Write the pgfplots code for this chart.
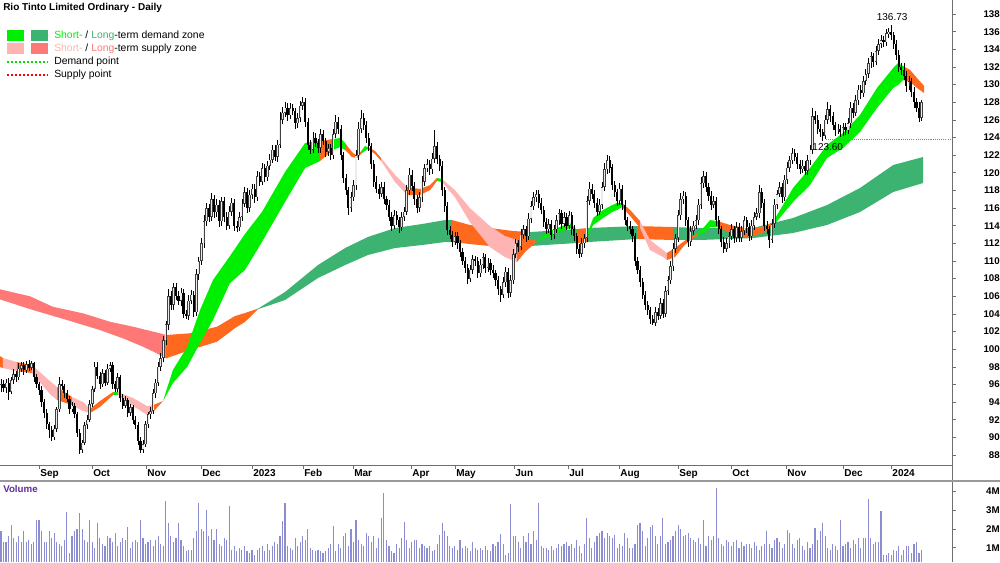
\documentclass[border=0pt]{standalone}
\usepackage{fontspec}
\setmainfont{Liberation Sans}
\usepackage{pgfplots}
\usepackage{pgfplotstable}
\pgfplotsset{compat=1.18}
\definecolor{bgreen}{RGB}{0,238,0}
\definecolor{dgreen}{RGB}{0,225,0}
\definecolor{sgreen}{RGB}{60,179,113}
\definecolor{lpink}{RGB}{255,180,180}
\definecolor{salm}{RGB}{255,120,120}
\definecolor{orng}{RGB}{255,105,30}
\definecolor{volc}{RGB}{140,140,210}
\definecolor{volt}{RGB}{95,45,155}
\definecolor{axg}{RGB}{110,110,110}

% daily close, upper wick, lower wick (wicks in tenths)
\pgfplotstableread[row sep=\\]{
c u w\\
96.0 6 8\\ 95.6 5 4\\ 96.2 4 6\\ 95.2 5 10\\ 96.5 4 3\\ 97.2 5 4\\ 96.8 3 5\\ 97.8 6 3\\ 98.2 4 4\\ 97.6 3 5\\
98.3 4 3\\ 97.9 5 4\\ 98.4 3 3\\ 96.8 2 5\\ 96.0 4 4\\ 95.4 3 6\\ 94.0 4 5\\ 92.8 3 6\\ 91.5 4 5\\ 90.8 3 9\\
90.0 5 4\\ 91.0 4 3\\ 93.2 3 4\\ 96.0 9 3\\ 95.8 5 4\\ 95.0 3 5\\ 94.4 4 4\\ 93.2 3 5\\ 93.6 4 3\\ 92.6 3 4\\
90.5 3 4\\ 88.6 4 5\\ 89.4 3 4\\ 91.4 4 3\\ 92.0 5 4\\ 93.8 4 3\\ 95.5 3 4\\ 98.0 6 3\\ 97.0 5 4\\ 96.0 4 5\\
97.3 4 3\\ 96.2 3 4\\ 97.8 5 3\\ 98.2 4 4\\ 96.0 3 5\\ 95.5 4 4\\ 96.8 5 3\\ 94.5 3 5\\ 93.6 4 4\\ 94.2 5 3\\
92.8 3 5\\ 93.4 4 4\\ 92.0 3 5\\ 91.4 4 4\\ 89.6 3 5\\ 88.6 4 4\\ 89.2 5 4\\ 91.5 4 3\\ 92.6 3 4\\ 93.0 4 5\\
95.0 5 3\\ 96.2 4 5\\ 98.0 5 4\\ 99.0 6 5\\ 101.0 5 4\\ 102.8 4 5\\ 106.0 8 6\\ 105.0 6 5\\ 107.0 5 6\\ 106.0 5 4\\
105.5 6 5\\ 106.4 5 6\\ 104.0 4 5\\ 103.8 5 4\\ 105.5 6 5\\ 106.2 5 4\\ 104.2 4 6\\ 108.5 6 4\\ 110.0 5 6\\ 112.0 6 5\\
114.5 7 5\\ 116.0 6 5\\ 115.0 5 6\\ 117.0 7 5\\ 115.5 5 6\\ 116.4 6 5\\ 114.5 5 6\\ 116.8 5 5\\ 115.0 4 6\\ 114.0 5 5\\
115.6 6 4\\ 116.6 5 5\\ 114.0 4 6\\ 113.8 5 5\\ 115.0 6 4\\ 116.5 5 5\\ 117.8 6 4\\ 116.0 5 6\\ 117.5 6 4\\ 118.2 5 5\\
117.2 5 6\\ 119.6 6 4\\ 119.0 5 5\\ 120.5 6 4\\ 119.5 5 6\\ 120.8 5 4\\ 121.5 6 5\\ 122.6 5 4\\ 121.8 6 5\\ 123.2 5 6\\
126.0 9 4\\ 126.8 7 5\\ 127.4 6 5\\ 126.5 5 6\\ 127.3 6 4\\ 127.0 5 5\\ 125.6 4 6\\ 126.2 6 5\\ 127.6 5 4\\ 128.0 6 5\\
125.8 5 6\\ 123.2 4 6\\ 122.6 5 5\\ 124.0 6 4\\ 123.4 5 5\\ 122.8 4 6\\ 124.4 6 5\\ 123.6 5 5\\ 122.4 4 6\\ 122.8 5 5\\
122.0 5 6\\ 124.4 6 4\\ 125.8 7 5\\ 125.0 5 6\\ 122.0 4 5\\ 119.4 4 6\\ 118.0 5 5\\ 116.0 4 8\\ 117.2 6 5\\ 118.6 6 4\\
122.0 6 5\\ 125.0 8 5\\ 126.2 9 5\\ 125.4 6 5\\ 124.0 5 6\\ 123.0 5 5\\ 121.0 4 6\\ 119.0 5 6\\ 118.2 6 5\\ 117.6 5 6\\
118.4 6 4\\ 117.0 5 5\\ 116.4 4 6\\ 115.0 5 5\\ 114.0 5 6\\ 115.2 6 4\\ 114.6 5 5\\ 113.8 4 6\\ 115.0 6 4\\ 115.6 5 5\\
118.0 6 4\\ 119.8 7 5\\ 118.5 5 6\\ 117.0 4 6\\ 116.0 5 6\\ 117.2 6 4\\ 119.0 6 5\\ 120.5 5 5\\ 121.0 6 4\\ 120.4 5 6\\
121.6 6 5\\ 123.0 18 5\\ 121.6 5 6\\ 120.8 4 6\\ 118.0 5 6\\ 116.2 4 6\\ 113.5 5 6\\ 113.0 5 5\\ 112.2 4 6\\ 112.8 5 4\\
112.0 5 6\\ 111.0 4 6\\ 110.0 5 5\\ 109.2 4 6\\ 108.0 5 6\\ 109.0 6 4\\ 110.2 5 5\\ 110.0 4 6\\ 108.6 5 5\\ 109.6 6 4\\
110.4 5 5\\ 109.2 4 6\\ 109.8 5 4\\ 109.0 4 6\\ 108.6 5 5\\ 107.8 4 6\\ 106.8 5 6\\ 106.2 4 9\\ 107.6 6 4\\ 108.8 5 5\\
106.4 4 6\\ 107.8 6 5\\ 110.8 6 4\\ 112.0 5 5\\ 111.6 4 6\\ 113.0 6 4\\ 113.6 5 5\\ 112.8 4 6\\ 114.8 6 4\\ 116.2 6 5\\
117.2 6 4\\ 117.6 5 5\\ 116.6 4 6\\ 115.8 5 5\\ 114.4 4 6\\ 113.6 5 5\\ 114.2 6 4\\ 113.0 4 6\\ 113.6 5 5\\ 114.6 6 4\\
115.4 5 5\\ 114.2 4 6\\ 115.0 5 4\\ 114.0 4 5\\ 115.2 5 4\\ 113.6 4 6\\ 112.8 5 5\\ 111.4 4 6\\ 110.8 5 5\\ 112.0 6 4\\
112.6 5 5\\ 116.8 6 4\\ 118.2 7 5\\ 117.6 5 6\\ 116.6 4 6\\ 115.6 5 5\\ 116.4 6 4\\ 118.4 6 5\\ 120.4 7 5\\ 121.4 6 5\\
120.6 5 6\\ 118.6 4 6\\ 117.8 5 5\\ 116.8 4 6\\ 118.2 6 4\\ 116.4 4 6\\ 114.6 5 5\\ 114.0 4 6\\ 113.6 5 5\\ 112.8 4 6\\
110.0 4 6\\ 109.0 5 5\\ 107.6 4 6\\ 106.2 5 5\\ 105.0 4 6\\ 104.4 5 5\\ 103.4 4 6\\ 103.0 5 3\\ 104.2 6 4\\ 103.8 5 5\\
105.2 6 4\\ 104.0 5 5\\ 106.6 6 4\\ 107.8 5 5\\ 109.4 6 4\\ 111.4 6 5\\ 112.6 5 5\\ 115.2 6 4\\ 117.0 7 5\\ 117.4 5 5\\
114.6 4 6\\ 112.2 4 6\\ 113.4 6 5\\ 114.0 5 5\\ 114.6 6 4\\ 116.4 6 5\\ 118.8 7 5\\ 119.6 6 5\\ 118.4 5 6\\ 117.4 4 6\\
116.4 5 6\\ 116.8 6 4\\ 114.6 4 6\\ 113.6 5 5\\ 112.2 4 6\\ 111.4 5 5\\ 112.0 6 4\\ 112.8 5 5\\ 113.6 6 4\\ 112.6 4 6\\
113.8 6 4\\ 112.6 5 5\\ 113.4 6 4\\ 114.6 5 5\\ 113.8 4 6\\ 112.8 5 5\\ 114.0 6 4\\ 115.0 5 5\\ 115.4 6 4\\ 117.8 8 5\\
116.6 5 6\\ 114.0 4 6\\ 113.6 5 5\\ 112.4 4 9\\ 114.2 6 4\\ 116.4 6 5\\ 117.6 5 5\\ 118.4 6 4\\ 117.2 4 6\\ 119.2 6 4\\
120.6 6 5\\ 121.4 5 5\\ 122.2 6 4\\ 121.8 5 5\\ 121.0 4 6\\ 120.4 5 5\\ 120.8 6 4\\ 120.2 5 5\\ 121.4 6 4\\ 122.6 6 5\\
126.4 9 5\\ 126.0 6 5\\ 125.0 5 6\\ 124.6 5 5\\ 124.2 4 6\\ 126.0 6 4\\ 127.2 8 5\\ 126.4 5 6\\ 125.4 5 5\\ 124.8 4 6\\
125.0 5 4\\ 124.6 4 5\\ 125.2 5 4\\ 124.8 4 5\\ 125.6 6 4\\ 127.4 6 5\\ 126.8 5 6\\ 128.2 6 4\\ 129.4 6 5\\ 129.0 5 6\\
130.4 6 4\\ 131.2 6 5\\ 132.4 6 5\\ 133.2 5 5\\ 132.6 4 6\\ 133.8 6 4\\ 134.6 6 5\\ 135.0 6 5\\ 134.8 5 5\\ 135.8 5 4\\
136.0 4 5\\ 135.6 7.3 5\\ 134.6 4 6\\ 133.4 4 6\\ 132.0 5 6\\ 131.6 5 5\\ 131.0 9 5\\ 129.8 5 6\\ 130.4 6 4\\ 129.2 4 6\\
128.0 5 6\\ 127.4 5 5\\ 126.2 6 4\\ 128.0 3 3\\
}\prices

\pgfplotstablecreatecol[create col/assign/.code={%
  \getprevrow{c}\entry
  \ifx\entry\empty\getthisrow{c}\entry\fi
  \pgfkeyslet{/pgfplots/table/create col/next content}\entry}]{o}{\prices}

% volume in millions
\pgfplotstableread[row sep=\\]{
v\\
1.9\\ 1.3\\ 1.3\\ 1.6\\ 2.2\\ 1.5\\ 1.3\\ 1.6\\ 1.3\\ 1.9\\
1.3\\ 1.4\\ 1.2\\ 1.3\\ 2.5\\ 2.5\\ 1.9\\ 1.3\\ 1.3\\ 1.9\\
1.5\\ 1.8\\ 1.3\\ 1.2\\ 1.1\\ 1.4\\ 2.9\\ 0.7\\ 1.6\\ 1.9\\
2.0\\ 2.85\\ 2.0\\ 1.4\\ 1.3\\ 2.45\\ 1.3\\ 1.0\\ 2.3\\ 1.5\\
1.2\\ 1.1\\ 1.6\\ 1.5\\ 1.3\\ 1.8\\ 1.1\\ 1.3\\ 1.5\\ 1.4\\
2.1\\ 1.0\\ 1.3\\ 1.4\\ 1.3\\ 2.45\\ 1.5\\ 1.2\\ 1.3\\ 1.4\\
1.1\\ 1.4\\ 1.6\\ 1.2\\ 1.1\\ 3.5\\ 2.3\\ 1.6\\ 1.3\\ 1.5\\
2.3\\ 1.4\\ 1.1\\ 0.8\\ 0.9\\ 0.9\\ 1.5\\ 1.9\\ 3.4\\ 2.0\\
1.9\\ 3.0\\ 1.6\\ 2.0\\ 1.4\\ 2.0\\ 1.2\\ 1.1\\ 1.5\\ 1.4\\
3.2\\ 0.9\\ 1.1\\ 0.8\\ 1.0\\ 0.9\\ 1.1\\ 0.8\\ 0.7\\ 0.9\\
0.6\\ 0.9\\ 1.0\\ 1.1\\ 0.8\\ 1.2\\ 0.9\\ 1.1\\ 1.3\\ 1.2\\
1.6\\ 2.4\\ 3.4\\ 1.1\\ 1.0\\ 0.9\\ 1.5\\ 1.1\\ 1.3\\ 1.6\\
1.4\\ 2.0\\ 1.0\\ 0.9\\ 0.8\\ 0.9\\ 0.8\\ 0.7\\ 0.8\\ 1.0\\
1.2\\ 2.15\\ 0.8\\ 1.2\\ 1.0\\ 1.6\\ 1.8\\ 1.1\\ 2.0\\ 1.3\\
2.45\\ 1.4\\ 1.2\\ 1.1\\ 1.8\\ 1.6\\ 1.3\\ 1.6\\ 1.0\\ 1.5\\
2.6\\ 3.9\\ 1.4\\ 1.1\\ 0.8\\ 0.7\\ 1.2\\ 1.0\\ 1.5\\ 2.35\\
1.4\\ 1.0\\ 1.3\\ 1.4\\ 1.4\\ 1.0\\ 1.2\\ 1.1\\ 1.0\\ 1.1\\
0.8\\ 0.9\\ 1.2\\ 1.7\\ 2.3\\ 1.9\\ 1.6\\ 1.1\\ 1.0\\ 1.1\\
0.9\\ 1.4\\ 1.0\\ 1.1\\ 1.0\\ 0.8\\ 1.3\\ 1.0\\ 0.9\\ 1.0\\
0.9\\ 1.1\\ 0.9\\ 0.8\\ 1.2\\ 1.1\\ 1.3\\ 1.75\\ 1.2\\ 0.6\\
0.7\\ 3.35\\ 1.6\\ 1.6\\ 1.3\\ 1.0\\ 1.6\\ 1.3\\ 1.8\\ 1.2\\
1.9\\ 1.4\\ 3.4\\ 1.1\\ 1.0\\ 1.0\\ 0.9\\ 1.1\\ 0.9\\ 1.0\\
1.2\\ 1.1\\ 1.2\\ 1.3\\ 1.1\\ 1.2\\ 1.0\\ 1.4\\ 1.1\\ 0.7\\
1.2\\ 2.6\\ 1.5\\ 1.0\\ 1.3\\ 1.6\\ 1.8\\ 1.9\\ 1.5\\ 1.8\\
1.6\\ 1.5\\ 1.7\\ 1.0\\ 1.2\\ 1.1\\ 1.8\\ 1.5\\ 1.0\\ 1.0\\
1.2\\ 2.2\\ 2.3\\ 1.9\\ 1.1\\ 1.5\\ 2.1\\ 2.2\\ 1.6\\ 1.2\\
1.6\\ 2.6\\ 1.2\\ 1.3\\ 1.4\\ 1.6\\ 1.9\\ 2.2\\ 2.0\\ 1.6\\
1.7\\ 1.8\\ 1.5\\ 1.4\\ 1.3\\ 1.5\\ 1.2\\ 2.45\\ 1.1\\ 1.6\\
1.4\\ 1.6\\ 4.2\\ 1.5\\ 1.2\\ 1.1\\ 1.4\\ 1.3\\ 1.1\\ 1.3\\
1.4\\ 1.0\\ 1.3\\ 1.1\\ 1.2\\ 1.2\\ 1.0\\ 1.3\\ 1.1\\ 0.9\\
1.1\\ 1.2\\ 1.9\\ 1.2\\ 1.0\\ 1.4\\ 1.5\\ 1.3\\ 1.0\\ 1.2\\
1.95\\ 1.8\\ 1.2\\ 1.0\\ 1.4\\ 1.5\\ 1.1\\ 0.9\\ 1.3\\ 1.0\\
1.2\\ 2.05\\ 1.4\\ 1.9\\ 2.3\\ 1.6\\ 1.0\\ 0.9\\ 1.2\\ 1.1\\
0.9\\ 2.5\\ 1.1\\ 1.2\\ 1.3\\ 1.0\\ 1.4\\ 1.2\\ 1.5\\ 1.0\\
1.5\\ 1.5\\ 3.6\\ 1.5\\ 1.2\\ 1.3\\ 1.3\\ 2.95\\ 0.6\\ 0.6\\
0.7\\ 0.6\\ 0.9\\ 0.8\\ 1.1\\ 0.6\\ 0.9\\ 1.1\\ 1.1\\ 0.7\\
1.2\\ 1.3\\ 0.7\\ 0.9\\
}\vols

\begin{document}
\begin{tikzpicture}
\path[use as bounding box] (0,0) rectangle (750pt,421.5pt);

\begin{axis}[
  at={(0pt,72.75pt)}, anchor=south west, scale only axis,
  width=714pt, height=348.75pt,
  xmin=-0.38, xmax=375, ymin=86.87, ymax=139.59,
  axis y line*=right, axis x line*=bottom,
  axis line style={draw=axg, line width=0.6pt},
  tick style={draw=axg, line width=0.5pt},
  tick align=outside, major tick length=3pt,
  xtick={15,35.9,57.2,78.9,99,119.1,138.8,161.7,179,202.3,223.6,243.7,267,287.9,309.6,332,351},
  xticklabels={Sep,Oct,Nov,Dec,2023,Feb,Mar,Apr,May,Jun,Jul,Aug,Sep,Oct,Nov,Dec,2024},
  xticklabel style={font=\bfseries\fontsize{7.5}{9}\selectfont, anchor=north west, inner sep=0pt, xshift=0.8pt},
  ytick={88,90,...,138},
  yticklabel style={font=\bfseries\fontsize{7.3}{9}\selectfont, anchor=east, inner sep=0pt, xshift=33pt},
  /pgf/number format/assume math mode=true,
  candle/.style={draw=none, mark=none, error bars/.cd, y dir=both, y explicit, error mark=none},
]
% ---- long-term zones
\addplot[fill=salm, draw=none] coordinates {(-0.4,106.79) (11.4,106.0) (20.5,104.81) (32.4,104.06) (43,103.11) (52.1,102.55) (62.7,101.80) (65.1,101.61) (65.1,98.96) (61.5,99.53) (56,100.28) (48.1,101.23) (39,102.17) (26,103.31) (12.6,104.44) (-0.4,105.65)} -- cycle;
\addplot[fill=orng, draw=none] coordinates {(65.1,101.61) (74.5,101.80) (85.2,102.55) (92.3,103.76) (96.2,104.10) (101.4,104.61) (101.4,104.55) (96.2,103.08) (92.3,102.40) (85.2,100.85) (74.5,99.90) (65.1,98.96)} -- cycle;
\addplot[fill=sgreen, draw=none] coordinates {(101.4,104.61) (112,106.48) (125,109.54) (135.7,111.47) (144.7,112.72) (155.4,113.74) (166,114.19) (175.1,114.64) (177.9,114.64) (177.9,112.15) (175.1,112.15) (166,111.81) (155.4,111.47) (144.7,110.68) (135.7,109.54) (125,108.07) (112,105.57) (101.4,104.55)} -- cycle;
\addplot[fill=orng, draw=none] coordinates {(177.9,114.64) (184.9,114.08) (192.8,113.74) (201.9,113.40) (208.6,113.28) (208.6,111.70) (201.9,111.58) (192.8,111.70) (184.9,111.92) (177.9,112.15)} -- cycle;
\addplot[fill=sgreen, draw=none] coordinates {(208.6,113.28) (227.1,113.62) (227.1,112.04) (208.6,111.70)} -- cycle;
\addplot[fill=orng, draw=none] coordinates {(227.1,113.62) (231.5,113.74) (231.5,112.15) (227.1,112.04)} -- cycle;
\addplot[fill=sgreen, draw=none] coordinates {(231.5,113.74) (250.8,113.96) (250.8,112.49) (231.5,112.15)} -- cycle;
\addplot[fill=orng, draw=none] coordinates {(250.8,113.96) (265.0,113.85) (265.0,112.38) (250.8,112.49)} -- cycle;
\addplot[fill=sgreen, draw=none] coordinates {(265.0,113.85) (275.7,113.74) (296.5,113.74) (312.3,114.87) (325.7,116.34) (338.7,118.27) (351.8,120.88) (363.6,121.79) (363.6,118.84) (351.8,117.82) (338.7,115.55) (325.7,114.08) (312.3,113.17) (296.5,112.60) (275.7,112.38) (265.0,112.38)} -- cycle;
% ---- short-term zones
\addplot[fill=orng, draw=none] coordinates {(-0.4,99.22) (0.8,99.00) (0.8,97.86) (-0.4,97.98)} -- cycle;
\addplot[fill=lpink, draw=none] coordinates {(0.8,99.00) (6.3,98.54) (6.3,97.52) (0.8,97.86)} -- cycle;
\addplot[fill=orng, draw=none] coordinates {(6.3,98.54) (12.2,98.20) (12.2,97.30) (6.3,97.52)} -- cycle;
\addplot[fill=lpink, draw=none] coordinates {(12.2,98.20) (19.3,96.39) (22.1,95.71) (22.1,94.24) (19.3,94.92) (12.2,97.30)} -- cycle;
\addplot[fill=orng, draw=none] coordinates {(22.1,95.71) (28.0,94.58) (28.0,93.67) (22.1,94.24)} -- cycle;
\addplot[fill=lpink, draw=none] coordinates {(28.0,94.58) (32.4,94.01) (35.1,93.21) (35.1,92.76) (32.4,92.99) (28.0,93.67)} -- cycle;
\addplot[fill=orng, draw=none] coordinates {(35.1,93.21) (39.0,94.12) (44.2,95.14) (44.2,94.80) (39.0,93.44) (35.1,92.76)} -- cycle;
\addplot[fill=bgreen, draw=none] coordinates {(44.2,95.14) (46.2,95.14) (46.2,94.80) (44.2,94.80)} -- cycle;
\addplot[fill=lpink, draw=none] coordinates {(46.2,95.14) (52.1,94.46) (57.6,93.56) (60.0,93.67) (60.0,92.88) (57.6,92.54) (52.1,93.56) (46.2,94.80)} -- cycle;
\addplot[fill=orng, draw=none] coordinates {(60.0,93.67) (63.9,94.12) (60.0,92.88)} -- cycle;
\addplot[fill=bgreen, draw=none] coordinates {(63.9,94.12) (67.8,97.64) (73.4,100.25) (78.5,104.44) (83.6,107.84) (90.3,110.56) (96.2,113.06) (102.9,115.55) (112.0,120.09) (119.9,123.37) (125.8,123.60) (125.8,121.33) (119.9,120.54) (112.0,116.69) (102.9,112.15) (96.2,108.97) (90.3,107.50) (83.6,103.31) (78.5,100.70) (73.4,97.98) (67.8,96.16)} -- cycle;
\addplot[fill=orng, draw=none] coordinates {(125.8,123.60) (130.9,123.83) (130.9,122.58) (125.8,121.33)} -- cycle;
\addplot[fill=bgreen, draw=none] coordinates {(130.9,123.83) (133.7,123.94) (135.7,123.37) (135.7,122.58) (133.7,122.92) (130.9,122.58)} -- cycle;
\addplot[fill=orng, draw=none] coordinates {(135.7,123.37) (138.4,122.35) (140.4,121.90) (142.4,122.58) (142.4,122.24) (140.4,121.67) (138.4,121.79) (135.7,122.58)} -- cycle;
\addplot[fill=bgreen, draw=none] coordinates {(142.4,122.58) (143.5,123.03) (144.7,122.92) (144.7,122.69) (143.5,122.47) (142.4,122.24)} -- cycle;
\addplot[fill=orng, draw=none] coordinates {(144.7,122.92) (147.5,122.47) (149.9,121.67) (149.9,121.33) (147.5,122.13) (144.7,122.69)} -- cycle;
\addplot[fill=lpink, draw=none] coordinates {(149.9,121.67) (155.4,119.75) (160.1,118.39) (160.1,117.48) (155.4,118.95) (149.9,121.33)} -- cycle;
\addplot[fill=orng, draw=none] coordinates {(160.1,118.39) (165.2,118.16) (169.2,118.61) (171.9,119.41) (171.9,119.07) (169.2,118.04) (165.2,117.48) (160.1,117.48)} -- cycle;
\addplot[fill=bgreen, draw=none] coordinates {(171.9,119.41) (173.9,119.30) (173.9,118.95) (171.9,119.07)} -- cycle;
\addplot[fill=lpink, draw=none] coordinates {(173.9,119.30) (179.0,118.04) (184.9,116.00) (192.8,113.96) (198.7,112.83) (203.5,112.38) (203.5,109.88) (198.7,110.45) (192.8,111.58) (184.9,114.42) (179.0,117.25) (173.9,118.95)} -- cycle;
\addplot[fill=orng, draw=none] coordinates {(203.5,112.38) (206.6,112.60) (210.6,112.38) (211.4,112.15) (210.6,112.04) (206.6,111.01) (203.5,109.88)} -- cycle;
\addplot[fill=bgreen, draw=none] coordinates {(211.4,112.15) (215.3,113.28) (220.4,113.85) (224.4,114.30) (227.1,113.51) (227.1,113.28) (224.4,113.74) (220.4,113.28) (215.3,112.72)} -- cycle;
\addplot[fill=orng, draw=none] coordinates {(227.1,113.51) (229.5,113.06) (231.5,113.28) (231.5,112.94) (229.5,112.83) (227.1,113.28)} -- cycle;
\addplot[fill=bgreen, draw=none] coordinates {(231.5,113.28) (233.5,114.87) (237.4,115.78) (241.0,116.34) (242.9,116.57) (244.9,116.57) (244.9,116.12) (242.9,115.78) (241.0,115.55) (237.4,114.87) (233.5,114.08) (231.5,112.94)} -- cycle;
\addplot[fill=orng, draw=none] coordinates {(244.9,116.57) (248.1,115.78) (252.0,114.53) (252.0,113.74) (248.1,115.10) (244.9,116.12)} -- cycle;
\addplot[fill=lpink, draw=none] coordinates {(252.0,114.53) (255.9,112.38) (261.1,111.24) (262.6,110.90) (262.6,110.11) (261.1,110.45) (255.9,111.24) (252.0,113.74)} -- cycle;
\addplot[fill=orng, draw=none] coordinates {(262.6,110.90) (265.8,111.47) (268.9,112.15) (271.7,112.72) (274.5,113.06) (274.5,112.83) (271.7,112.38) (268.9,111.58) (265.8,110.45) (262.6,110.11)} -- cycle;
\addplot[fill=bgreen, draw=none] coordinates {(274.5,113.06) (277.6,113.96) (279.6,114.64) (282.4,114.53) (282.4,113.85) (279.6,113.85) (277.6,113.28) (274.5,112.83)} -- cycle;
\addplot[fill=orng, draw=none] coordinates {(282.4,114.53) (287.5,114.08) (293.4,113.74) (296.5,113.74) (301.3,113.96) (304.4,114.42) (304.4,113.96) (301.3,113.28) (296.5,112.83) (293.4,112.72) (287.5,113.17) (282.4,113.85)} -- cycle;
\addplot[fill=bgreen, draw=none] coordinates {(304.4,114.42) (312.3,118.27) (319.0,120.54) (325.7,123.15) (332.0,124.51) (338.7,126.55) (345.4,129.61) (351.8,131.88) (353.7,132.44) (355.7,132.10) (355.7,130.52) (353.7,129.95) (351.8,129.61) (345.4,127.34) (338.7,124.62) (332.0,122.81) (325.7,121.67) (319.0,118.61) (312.3,116.69) (304.4,113.96)} -- cycle;
\addplot[fill=orng, draw=none] coordinates {(355.7,132.10) (358.5,131.65) (361.2,130.74) (364.0,129.84) (364.0,129.04) (361.2,129.61) (358.5,130.29) (355.7,130.52)} -- cycle;
% ---- demand point
\addplot[draw=dgreen, line width=0.8pt, dash pattern=on 0.8pt off 0.8pt] coordinates {(325.3,123.75) (375,123.75)};
% ---- candles: wicks
\addplot[candle, error bar style={draw=black, line width=0.45pt}]
  table[x expr=\coordindex, y=c,
    y error plus expr={max(\thisrow{o},\thisrow{c})+\thisrow{u}/10-\thisrow{c}},
    y error minus expr={\thisrow{c}-min(\thisrow{o},\thisrow{c})+\thisrow{w}/10}] {\prices};
% down bodies
\addplot[candle, error bar style={draw=black, line width=1.6pt}]
  table[x expr=\coordindex,
    y expr={\thisrow{c}<\thisrow{o} ? (\thisrow{o}+\thisrow{c})/2 : nan},
    y error expr={max(abs(\thisrow{o}-\thisrow{c})/2,0.05)}] {\prices};
% up bodies (outline + light inside)
\addplot[candle, error bar style={draw=black!75, line width=1.9pt}]
  table[x expr=\coordindex,
    y expr={\thisrow{c}>=\thisrow{o} ? (\thisrow{o}+\thisrow{c})/2 : nan},
    y error expr={max(abs(\thisrow{o}-\thisrow{c})/2,0.05)}] {\prices};
\addplot[candle, error bar style={draw=black!8, line width=0.8pt}]
  table[x expr=\coordindex,
    y expr={\thisrow{c}>=\thisrow{o} ? (\thisrow{o}+\thisrow{c})/2 : nan},
    y error expr={max(abs(\thisrow{o}-\thisrow{c})/2-0.07,0)}] {\prices};
% ---- annotations
\node[font=\fontsize{7.5}{9}\selectfont, inner sep=0pt] at (axis cs:351.4,137.66) {136.73};
\node[font=\fontsize{7.5}{9}\selectfont, inner sep=0pt] at (axis cs:326,122.95) {123.60};
\end{axis}

\begin{axis}[
  at={(0pt,0pt)}, anchor=south west, scale only axis,
  width=714pt, height=60.75pt,
  xmin=-0.38, xmax=375, ymin=0.24, ymax=4.55,
  axis y line*=right, axis x line=none,
  axis line style={draw=axg, line width=0.6pt},
  tick style={draw=axg, line width=0.5pt},
  tick align=outside, major tick length=3pt,
  ytick={1,2,3,4}, yticklabels={1M,2M,3M,4M},
  yticklabel style={font=\bfseries\fontsize{7.3}{9}\selectfont, anchor=east, inner sep=0pt, xshift=33pt},
]
\addplot[ycomb, draw=volc, line width=0.85pt, mark=none] table[x expr=\coordindex, y=v] {\vols};
\end{axis}

\begin{scope}[x=0.75pt, y=-0.75pt, yshift=421.5pt]
  \draw[axg, line width=0.6pt] (952,465) -- (952,481);
  \draw[gray!80, line width=1.2pt] (0,481) -- (1000,481);
  \node[anchor=west, inner sep=0pt, font=\bfseries\fontsize{7.5}{9}\selectfont] at (3,8) {Rio Tinto Limited Ordinary - Daily};
  \fill[bgreen] (7,30) rectangle (24,41);
  \fill[sgreen] (31,30) rectangle (48,41);
  \node[anchor=west, inner sep=0pt, font=\fontsize{7.8}{9}\selectfont] at (54,35.5) {\textcolor{bgreen}{Short-} / \textcolor{sgreen}{Long}-term demand zone};
  \fill[lpink] (7,43) rectangle (24,54);
  \fill[salm] (31,43) rectangle (48,54);
  \node[anchor=west, inner sep=0pt, font=\fontsize{7.8}{9}\selectfont] at (54,48.5) {\textcolor{lpink}{Short-} / \textcolor{salm}{Long}-term supply zone};
  \draw[dgreen, line width=1.5pt, dash pattern=on 1.5pt off 1.5pt] (7,62) -- (48,62);
  \node[anchor=west, inner sep=0pt, font=\fontsize{7.8}{9}\selectfont] at (54,62) {Demand point};
  \draw[red, line width=1.5pt, dash pattern=on 1.5pt off 1.5pt] (7,75) -- (48,75);
  \node[anchor=west, inner sep=0pt, font=\fontsize{7.8}{9}\selectfont] at (54,75) {Supply point};
  \node[anchor=west, inner sep=0pt, text=volt, font=\bfseries\fontsize{7.3}{9}\selectfont] at (3,489) {Volume};
\end{scope}
\end{tikzpicture}
\end{document}
